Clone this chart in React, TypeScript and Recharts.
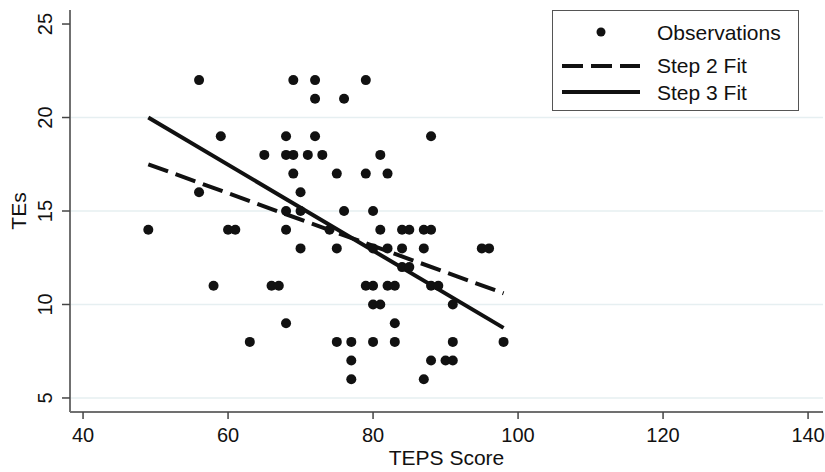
import React from "react";
import {
  ComposedChart,
  Scatter,
  Line,
  XAxis,
  YAxis,
  CartesianGrid,
  Legend,
} from "recharts";

// observations (TEPS score vs TEs)
const obsX = [
  49, 56, 56, 58, 59, 60, 61, 63, 65, 66, 67, 68, 68, 68, 68, 68, 69, 69, 69, 70, 70, 70, 71, 72, 72, 72, 73, 74,
  75, 75, 75, 76, 76, 77, 77, 77, 79, 79, 79, 80, 80, 80, 80, 80, 81, 81, 81, 82, 82, 82, 83, 83, 83, 84, 84, 84,
  85, 85, 87, 87, 87, 88, 88, 88, 88, 89, 90, 91, 91, 91, 95, 96, 98,
];
const obsY = [
  14, 22, 16, 11, 19, 14, 14, 8, 18, 11, 11, 19, 18, 15, 14, 9, 22, 18, 17, 16, 15, 13, 18, 22, 21, 19, 18, 14,
  17, 13, 8, 21, 15, 8, 7, 6, 22, 17, 11, 15, 13, 11, 10, 8, 18, 14, 10, 17, 13, 11, 11, 9, 8, 14, 13, 12,
  14, 12, 14, 13, 6, 19, 14, 11, 7, 11, 7, 10, 8, 7, 13, 13, 8,
];

// fitted lines
const fitX = [49, 98];
const step2Y = [17.5, 10.6];
const step3Y = [20.0, 8.75];

const xTicks = [40, 60, 80, 100, 120, 140];
const yTicks = [5, 10, 15, 20, 25];
const gridY = [5, 10, 15, 20];

const observations = obsX.map((x, i) => ({ x, y: obsY[i] }));
const step2 = fitX.map((x, i) => ({ x, y: step2Y[i] }));
const step3 = fitX.map((x, i) => ({ x, y: step3Y[i] }));

const FONT = "'Liberation Sans', Arial, sans-serif";
const INK = "#111";

function XTick({ x, y, payload }: any) {
  return (
    <text x={x} y={y + 21} textAnchor="middle" fontSize={20} fontFamily={FONT} fill={INK}>
      {payload.value}
    </text>
  );
}

function YTick({ x, y, payload }: any) {
  const bx = x - 8;
  return (
    <text
      x={bx}
      y={y}
      transform={`rotate(-90, ${bx}, ${y})`}
      textAnchor="middle"
      fontSize={20}
      fontFamily={FONT}
      fill={INK}
    >
      {payload.value}
    </text>
  );
}

function XTitle({ viewBox }: any) {
  const cx = viewBox.x + viewBox.width / 2;
  return (
    <text x={cx} y={465} textAnchor="middle" fontSize={21} fontFamily={FONT} fill={INK}>
      TEPS Score
    </text>
  );
}

function YTitle({ viewBox }: any) {
  const cy = viewBox.y + viewBox.height / 2;
  return (
    <text x={26} y={cy} transform={`rotate(-90, 26, ${cy})`} textAnchor="middle" fontSize={21} fontFamily={FONT} fill={INK}>
      TEs
    </text>
  );
}

function LegendBox() {
  return (
    <div
      style={{
        width: 247,
        height: 101,
        boxSizing: "border-box",
        border: "1.5px solid #555",
        background: "#fff",
      }}
    >
      <svg width={245} height={99} style={{ display: "block" }}>
        <circle cx={48} cy={21} r={4.5} fill={INK} />
        <line x1={9} x2={87} y1={55} y2={55} stroke={INK} strokeWidth={4} strokeDasharray="21 8" />
        <line x1={9} x2={87} y1={81} y2={81} stroke={INK} strokeWidth={4} />
        <text x={104} y={29} fontSize={21} fontFamily={FONT} fill={INK}>Observations</text>
        <text x={104} y={62} fontSize={21} fontFamily={FONT} fill={INK}>Step 2 Fit</text>
        <text x={104} y={89} fontSize={21} fontFamily={FONT} fill={INK}>Step 3 Fit</text>
      </svg>
    </div>
  );
}

export default function App() {
  return (
    <div style={{ position: "absolute", left: 0, top: 0, width: 825, height: 472, background: "#fff" }}>
      <ComposedChart width={825} height={472} margin={{ top: 10, right: 2, bottom: 0, left: 0 }}>
        <CartesianGrid horizontal vertical={false} horizontalValues={gridY} stroke="#e6eff1" strokeWidth={1.5} />
        <XAxis
          type="number"
          dataKey="x"
          domain={[38.2, 142.06]}
          ticks={xTicks}
          height={60}
          tick={<XTick />}
          tickSize={7}
          tickLine={{ stroke: "#444", strokeWidth: 1.5 }}
          axisLine={{ stroke: "#707070", strokeWidth: 2 }}
          allowDataOverflow
          label={<XTitle />}
        />
        <YAxis
          type="number"
          dataKey="y"
          domain={[4.25, 25.75]}
          ticks={yTicks}
          width={70}
          tick={<YTick />}
          tickSize={8}
          tickLine={{ stroke: "#444", strokeWidth: 1.5 }}
          axisLine={{ stroke: "#707070", strokeWidth: 2 }}
          allowDataOverflow
          label={<YTitle />}
        />
        <Legend
          layout="horizontal"
          verticalAlign="middle"
          align="center"
          wrapperStyle={{ top: 10, left: 552, width: 247, height: 101 }}
          content={() => <LegendBox />}
        />
        <Scatter
          name="Observations"
          data={observations}
          fill={INK}
          shape={(p: any) => <circle cx={p.cx} cy={p.cy} r={5} fill={INK} />}
          isAnimationActive={false}
        />
        <Line
          name="Step 2 Fit"
          data={step2}
          dataKey="y"
          stroke={INK}
          strokeWidth={4}
          strokeDasharray="21 8"
          dot={false}
          type="linear"
          isAnimationActive={false}
        />
        <Line
          name="Step 3 Fit"
          data={step3}
          dataKey="y"
          stroke={INK}
          strokeWidth={4}
          dot={false}
          type="linear"
          isAnimationActive={false}
        />
      </ComposedChart>
    </div>
  );
}
